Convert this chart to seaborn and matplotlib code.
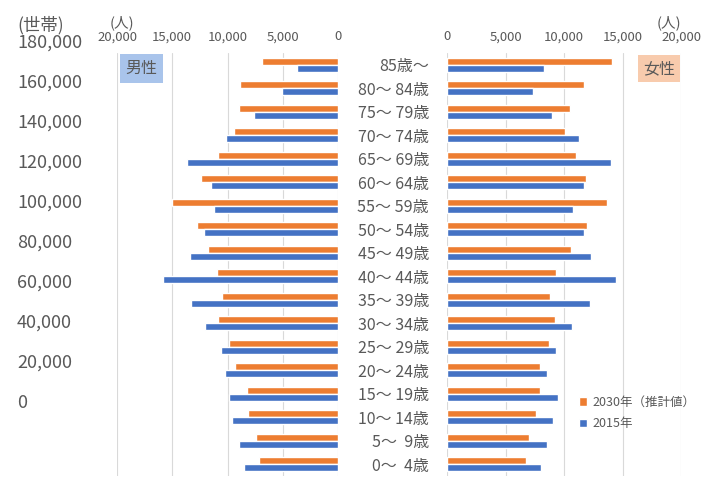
import numpy as np
import pandas as pd
import seaborn as sns
import matplotlib.pyplot as plt

sns.set_theme(style="white")
plt.rcParams['font.family'] = ['Noto Sans CJK JP', 'DejaVu Sans']

# age groups, top to bottom
ages = ["85歳～", "80～ 84歳", "75～ 79歳", "70～ 74歳", "65～ 69歳", "60～ 64歳",
        "55～ 59歳", "50～ 54歳", "45～ 49歳", "40～ 44歳", "35～ 39歳", "30～ 34歳",
        "25～ 29歳", "20～ 24歳", "15～ 19歳", "10～ 14歳", "5～  9歳", "0～  4歳"]

male_2030 = [6840, 8890, 8950, 9430, 10850, 12420, 15010, 12720, 11780, 10940,
             10520, 10820, 9830, 9340, 8230, 8110, 7410, 7170]
male_2015 = [3680, 5060, 7630, 10160, 13650, 11480, 11210, 12090, 13380, 15850,
             13290, 12000, 10610, 10190, 9890, 9550, 8980, 8530]
female_2030 = [14100, 11740, 10480, 10060, 11000, 11850, 13700, 11940, 10600, 9320,
               8830, 9200, 8690, 7920, 7920, 7580, 7010, 6750]
female_2015 = [8260, 7350, 8950, 11310, 14020, 11710, 10740, 11710, 12340, 14440,
               12190, 10680, 9320, 8520, 9520, 9060, 8520, 8030]

series = ["2030年（推計値）", "2015年"]
colors = ["#ED7D31", "#4472C4"]

x_ticks = [0, 5000, 10000, 15000, 20000]
x_labels = ["0", "5,000", "10,000", "15,000", "20,000"]

# leftover household axis labels
hh_labels = ["180,000", "160,000", "140,000", "120,000", "100,000",
             "80,000", "60,000", "40,000", "20,000", "0"]

male = pd.DataFrame({
    "age": ages * 2,
    "value": male_2030 + male_2015,
    "year": [series[0]] * len(ages) + [series[1]] * len(ages),
})
female = pd.DataFrame({
    "age": ages * 2,
    "value": female_2030 + female_2015,
    "year": [series[0]] * len(ages) + [series[1]] * len(ages),
})

fig = plt.figure(figsize=(7.10, 4.82), dpi=100)
ax_m = fig.add_axes([0.1648, 0.0124, 0.3113, 0.8776])
ax_f = fig.add_axes([0.6296, 0.0124, 0.3296, 0.8776])

gray = "#595959"

sns.barplot(data=male, y="age", x="value", hue="year", hue_order=series,
            palette=colors, orient="h", width=0.58, ax=ax_m, legend=False,
            saturation=1)
sns.barplot(data=female, y="age", x="value", hue="year", hue_order=series,
            palette=colors, orient="h", width=0.58, ax=ax_f, saturation=1)

for ax in (ax_m, ax_f):
    ax.set_xlim(0, 20000)
    ax.set_xticks(x_ticks)
    ax.set_xticklabels(x_labels)
    ax.xaxis.tick_top()
    ax.tick_params(axis="x", length=0, pad=7, labelsize=9.5, labelcolor=gray)
    ax.grid(axis="x", color="#d9d9d9", lw=0.8)
    ax.set_axisbelow(True)
    for s in ax.spines.values():
        s.set_visible(False)
    ax.set_xlabel("")
    ax.set_ylabel("")
    ax.set_ylim(len(ages) - 0.5, -0.5)

ax_m.invert_xaxis()
ax_m.set_yticks([])

ax_f.tick_params(axis="y", length=0, pad=13, labelsize=11.5, labelcolor=gray)

# legend
handles, labels = ax_f.get_legend_handles_labels()
ax_f.legend(handles, labels, loc="center left", bbox_to_anchor=(0.808, 0.143),
            bbox_transform=fig.transFigure, frameon=False, fontsize=9,
            handlelength=0.7, handleheight=0.7, handletextpad=0.4,
            labelspacing=0.7, labelcolor=gray, borderaxespad=0)

# sex boxes
fig.text(0.199, 0.858, "男性", fontsize=11.5, color=gray, ha="center", va="center",
         bbox=dict(boxstyle="square,pad=0.35", fc="#A9C4EB", ec="none"))
fig.text(0.928, 0.858, "女性", fontsize=11.5, color=gray, ha="center", va="center",
         bbox=dict(boxstyle="square,pad=0.3", fc="#F8CBAD", ec="none"))

# unit labels
fig.text(0.172, 0.953, "(人)", fontsize=10.5, color=gray, ha="center", va="center")
fig.text(0.942, 0.953, "(人)", fontsize=10.5, color=gray, ha="center", va="center")
fig.text(0.024, 0.948, "(世帯)", fontsize=12.5, color=gray, ha="left", va="center")

for i, lab in enumerate(hh_labels):
    y = 1 - (43 + 40 * i) / 482
    fig.text(0.024, y, lab, fontsize=13, color=gray, ha="left", va="center")

fig.savefig("out.png", dpi=100)
